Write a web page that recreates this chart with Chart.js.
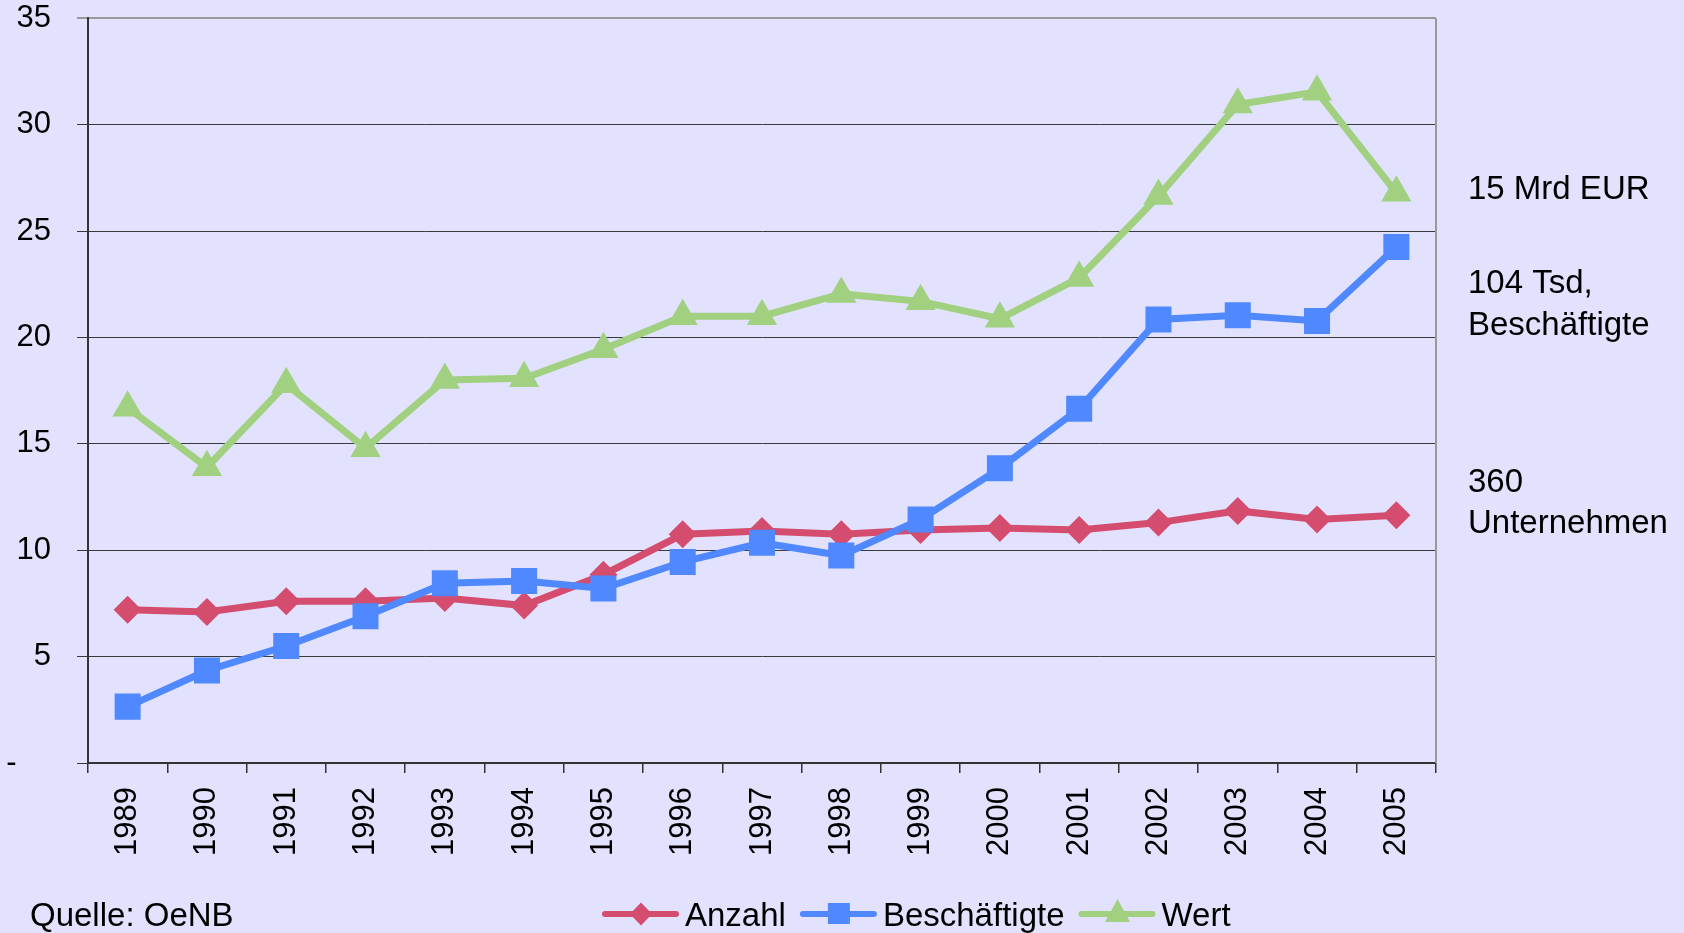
<!DOCTYPE html>
<html>
<head>
<meta charset="utf-8">
<script src="https://cdn.jsdelivr.net/npm/chart.js@4.4.1/dist/chart.umd.min.js"></script>
<style>
  html, body { margin: 0; padding: 0; background: #E2E2FE; }
  #wrap { width: 1684px; height: 933px; position: relative; }
</style>
</head>
<body>
<div id="wrap"><canvas id="c" width="1684" height="933"></canvas></div>
<script>
const years = ['1989','1990','1991','1992','1993','1994','1995','1996','1997','1998','1999','2000','2001','2002','2003','2004','2005'];
const anzahl = [7.2, 7.1, 7.6, 7.6, 7.75, 7.4, 8.85, 10.75, 10.9, 10.75, 10.95, 11.05, 10.95, 11.3, 11.85, 11.45, 11.65];
const beschaeftigte = [2.65, 4.35, 5.5, 6.9, 8.45, 8.55, 8.2, 9.45, 10.35, 9.75, 11.45, 13.85, 16.65, 20.85, 21.05, 20.78, 24.25];
const wert = [16.7, 13.9, 17.8, 14.8, 18.0, 18.08, 19.45, 21.0, 21.0, 22.05, 21.7, 20.88, 22.8, 26.65, 30.95, 31.55, 26.8];
const yTicks = [0, 5, 10, 15, 20, 25, 30, 35];
const sideNotes = [['15 Mrd EUR'], ['104 Tsd,', 'Beschäftigte'], ['360', 'Unternehmen']];
const sourceText = 'Quelle: OeNB';

const RED = '#D44D6E', BLUE = '#4F88FF', GREEN = '#A0D080';
const FONT = "'Liberation Sans', Arial, sans-serif";

const notesPlugin = {
  id: 'notes',
  afterDraw(chart) {
    const ctx = chart.ctx;
    const ca = chart.chartArea;
    ctx.save();
    // right frame
    ctx.strokeStyle = '#999';
    ctx.lineWidth = 2;
    ctx.beginPath();
    ctx.moveTo(ca.right, ca.top);
    ctx.lineTo(ca.right, ca.bottom);
    ctx.stroke();
    // side notes
    ctx.fillStyle = '#000';
    ctx.font = '33px ' + FONT;
    ctx.textAlign = 'left';
    ctx.textBaseline = 'alphabetic';
    const baselines = [[199], [293, 335], [492, 533]];
    sideNotes.forEach((lines, i) => {
      lines.forEach((t, j) => ctx.fillText(t, 1468, baselines[i][j]));
    });
    // source
    ctx.font = '33px ' + FONT;
    ctx.fillText(sourceText, 30, 926);
    // legend
    const items = chart.data.datasets;
    let x = 605;
    const y = 914;
    items.forEach(ds => {
      ctx.strokeStyle = ds.borderColor;
      ctx.lineWidth = 6;
      ctx.lineCap = 'round';
      ctx.beginPath();
      ctx.moveTo(x, y);
      ctx.lineTo(x + 71, y);
      ctx.stroke();
      const cx = x + 36;
      ctx.fillStyle = ds.borderColor;
      ctx.beginPath();
      if (ds.pointStyle === 'rectRot') {
        ctx.moveTo(cx, y - 11.5); ctx.lineTo(cx + 11, y); ctx.lineTo(cx, y + 11.5); ctx.lineTo(cx - 11, y);
      } else if (ds.pointStyle === 'rect') {
        ctx.rect(cx - 11, y - 11, 22, 21);
      } else {
        ctx.moveTo(cx, y - 15); ctx.lineTo(cx + 12.5, y + 8); ctx.lineTo(cx - 12.5, y + 8);
      }
      ctx.closePath();
      ctx.fill();
      ctx.fillStyle = '#000';
      ctx.font = '33px ' + FONT;
      const tw = ctx.measureText(ds.label).width;
      ctx.fillText(ds.label, x + 80, 926);
      x = x + 80 + tw + 17;
    });
    ctx.restore();
  }
};

new Chart(document.getElementById('c'), {
  type: 'line',
  data: {
    labels: years,
    datasets: [
      { label: 'Anzahl', data: anzahl, borderColor: RED, backgroundColor: RED, pointBackgroundColor: RED,
        pointStyle: 'rectRot', pointRadius: 14, pointBorderWidth: 0, borderWidth: 7, order: 3 },
      { label: 'Beschäftigte', data: beschaeftigte, borderColor: BLUE, backgroundColor: BLUE, pointBackgroundColor: BLUE,
        pointStyle: 'rect', pointRadius: 18.4, pointBorderWidth: 0, borderWidth: 7, order: 2 },
      { label: 'Wert', data: wert, borderColor: GREEN, backgroundColor: GREEN, pointBackgroundColor: GREEN,
        pointStyle: 'triangle', pointRadius: 17.5, pointBorderWidth: 0, borderWidth: 7, order: 1 }
    ]
  },
  options: {
    responsive: false,
    animation: false,
    layout: { padding: { top: 18, right: 248, bottom: 0, left: 0 } },
    plugins: { legend: { display: false }, tooltip: { enabled: false } },
    elements: { line: { tension: 0 } },
    scales: {
      x: {
        offset: true,
        afterFit(s) { s.height = 170; s.paddingLeft = 0; s.paddingRight = 0; },
        grid: { offset: true, drawOnChartArea: false, drawTicks: true, tickLength: 10, color: '#333', lineWidth: 1.5 },
        border: { color: '#333', width: 2 },
        ticks: { color: '#000', font: { family: FONT, size: 31 }, maxRotation: 90, minRotation: 90, padding: 14, autoSkip: false }
      },
      y: {
        min: 0, max: 35,
        afterFit(s) { s.width = 88; s.paddingTop = 0; s.paddingBottom = 0; },
        afterBuildTicks(s) { s.ticks = yTicks.map(v => ({ value: v })); },
        grid: {
          color: ctx => (ctx.tick && ctx.tick.value === 35) ? '#999' : '#3a3a3a',
          lineWidth: ctx => (ctx.tick && ctx.tick.value === 35) ? 2 : 1,
          tickLength: 11
        },
        border: { color: '#333', width: 2 },
        ticks: {
          color: '#000', font: { family: FONT, size: 31 }, padding: 26,
          callback: v => v === 0 ? '-    ' : String(v)
        }
      }
    }
  },
  plugins: [notesPlugin]
});
</script>
</body>
</html>
